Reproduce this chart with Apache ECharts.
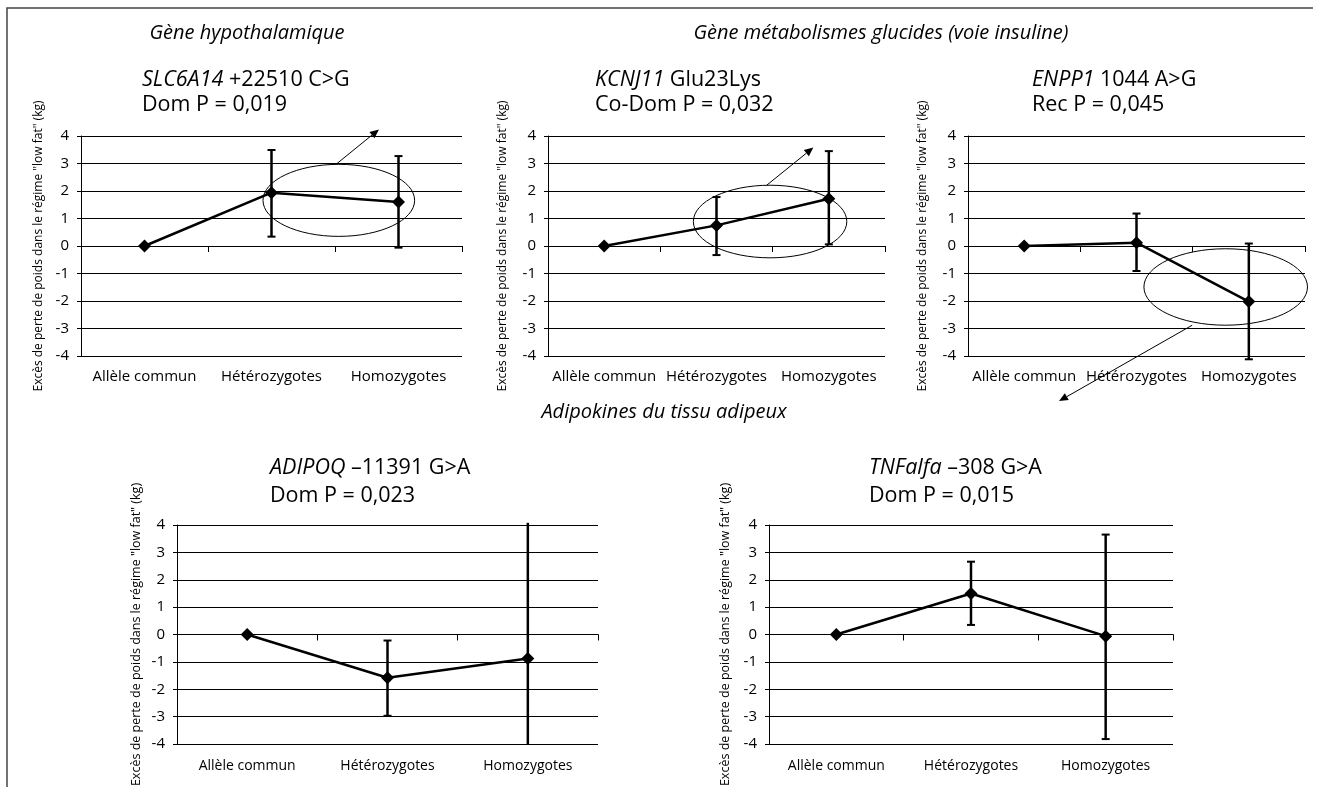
<!DOCTYPE html>
<html><head><meta charset="utf-8">
<script src="https://cdn.jsdelivr.net/npm/echarts@6/dist/echarts.min.js"></script>
<style>html,body{margin:0;padding:0;background:#fff}#c{width:1319px;height:787px}</style>
</head><body><div id="c"></div>
<script>
// ---- data ----
const categories = ['Allèle commun', 'Hétérozygotes', 'Homozygotes'];
const yTicks = [-4, -3, -2, -1, 0, 1, 2, 3, 4];
const yAxisName = 'Excès de perte de poids dans le régime "low fat" (kg)';

const slcMean = [0, 1.94, 1.60];
const slcLow  = [null, 0.34, -0.06];
const slcHigh = [null, 3.49, 3.27];

const kcnMean = [0, 0.75, 1.72];
const kcnLow  = [null, -0.33, 0.06];
const kcnHigh = [null, 1.78, 3.45];

const enpMean = [0, 0.12, -2.02];
const enpLow  = [null, -0.91, -4.12];
const enpHigh = [null, 1.18, 0.09];

const adiMean = [0, -1.58, -0.88];
const adiLow  = [null, -2.97, -5.9];
const adiHigh = [null, -0.22, 4.2];

const tnfMean = [0, 1.50, -0.06];
const tnfLow  = [null, 0.35, -3.82];
const tnfHigh = [null, 2.66, 3.65];

// annotations (category-index / value units): ellipse [cx, cy, rx, ry], arrow [x1, y1, x2, y2]
const slcEllipse = [1.53, 1.66, 0.597, 1.31];
const slcArrow   = [1.516, 3.0, 1.846, 4.24];
const kcnEllipse = [1.477, 0.89, 0.683, 1.32];
const kcnArrow   = [1.447, 2.21, 1.862, 3.58];
const enpEllipse = [1.794, -1.49, 0.728, 1.39];
const enpArrow   = [1.496, -2.88, 0.31, -5.64];

const headers = ['Gène hypothalamique', 'Gène métabolismes glucides (voie insuline)', 'Adipokines du tissu adipeux'];
const panels = [
  {gene: 'SLC6A14', variant: ' +22510 C>G', test: 'Dom P = 0,019', mean: slcMean, low: slcLow, high: slcHigh, ell: slcEllipse, arr: slcArrow},
  {gene: 'KCNJ11', variant: ' Glu23Lys', test: 'Co-Dom P = 0,032', mean: kcnMean, low: kcnLow, high: kcnHigh, ell: kcnEllipse, arr: kcnArrow},
  {gene: 'ENPP1', variant: ' 1044 A>G', test: 'Rec P = 0,045', mean: enpMean, low: enpLow, high: enpHigh, ell: enpEllipse, arr: enpArrow},
  {gene: 'ADIPOQ', variant: ' \u201311391 G>A', test: 'Dom P = 0,023', mean: adiMean, low: adiLow, high: adiHigh},
  {gene: 'TNFalfa', variant: ' \u2013308 G>A', test: 'Dom P = 0,015', mean: tnfMean, low: tnfLow, high: tnfHigh}
];

// ---- layout ----
const FONT = '"Open Sans", "Noto Sans", sans-serif';
const layout = [
  {grid: {left: 81, top: 136, width: 381, height: 220}, title: [142, 67], lh: 25, nameGap: 36, nameSize: 12, catSize: 15, catMargin: 13},
  {grid: {left: 548, top: 136, width: 337, height: 220}, title: [595, 67], lh: 25, nameGap: 39, nameSize: 12, catSize: 15, catMargin: 13},
  {grid: {left: 968, top: 136, width: 337, height: 220}, title: [1032, 67], lh: 25, nameGap: 39, nameSize: 12, catSize: 15, catMargin: 13},
  {grid: {left: 177, top: 525, width: 421, height: 219}, title: [270, 454], lh: 28, nameGap: 34, nameSize: 12.5, catSize: 14, catMargin: 15},
  {grid: {left: 769, top: 525, width: 404, height: 219}, title: [869, 454], lh: 28, nameGap: 37, nameSize: 12.5, catSize: 14, catMargin: 15}
];

const grids = [], xAxes = [], yAxes = [], series = [], titles = [];
panels.forEach((p, i) => {
  const L = layout[i];
  grids.push(Object.assign({containLabel: false, outerBoundsMode: 'none'}, L.grid));
  xAxes.push({
    type: 'category', gridIndex: i, data: categories, boundaryGap: true,
    axisLine: {show: true, lineStyle: {color: '#000', width: 1}},
    axisTick: {show: true, length: 6, lineStyle: {color: '#000'}},
    axisLabel: {color: '#000', fontSize: L.catSize, fontFamily: FONT, margin: L.catMargin, interval: 0},
    splitLine: {show: false}
  });
  yAxes.push({
    type: 'value', gridIndex: i, min: yTicks[0], max: yTicks[yTicks.length - 1], interval: 1,
    name: yAxisName, nameLocation: 'middle', nameGap: L.nameGap, nameRotate: 90,
    nameTextStyle: {color: '#000', fontSize: L.nameSize, fontFamily: FONT},
    axisLine: {show: true, lineStyle: {color: '#000', width: 1}},
    axisTick: {show: true, length: 4, lineStyle: {color: '#000'}},
    axisLabel: {color: '#000', fontSize: 15, fontFamily: FONT, margin: 12},
    splitLine: {show: true, lineStyle: {color: '#000', width: 1}}
  });
  titles.push({
    left: L.title[0], top: L.title[1], padding: 0,
    text: '{i|' + p.gene + '}{n|' + p.variant + '}\n{n|' + p.test + '}',
    textStyle: {fontSize: 21.5, lineHeight: L.lh, fontFamily: FONT, color: '#000', fontWeight: 'normal',
      rich: {i: {fontStyle: 'italic', fontSize: 21.5, lineHeight: L.lh, fontFamily: FONT, color: '#000'},
             n: {fontSize: 21.5, lineHeight: L.lh, fontFamily: FONT, color: '#000'}}}
  });
  // error bars
  const errData = [];
  p.mean.forEach((m, k) => { if (p.low[k] != null) errData.push([k, p.low[k], p.high[k]]); });
  series.push({
    type: 'custom', xAxisIndex: i, yAxisIndex: i, z: 3, silent: true, clip: false,
    data: errData,
    renderItem: function (params, api) {
      const x = api.value(0), lo = api.value(1), hi = api.value(2);
      const lim = 4.15;
      const loC = Math.abs(lo) > lim ? Math.sign(lo) * 4 : lo;
      const hiC = Math.abs(hi) > lim ? Math.sign(hi) * 4.08 : hi;
      const a = api.coord([x, loC]), b = api.coord([x, hiC]);
      const ch = [];
      ch.push({type: 'line', shape: {x1: a[0], y1: a[1], x2: b[0], y2: b[1]}, style: {stroke: '#000', lineWidth: 2.5}});
      if (Math.abs(lo) <= lim) ch.push({type: 'line', shape: {x1: a[0] - 4, y1: a[1], x2: a[0] + 4, y2: a[1]}, style: {stroke: '#000', lineWidth: 2}});
      if (Math.abs(hi) <= lim) ch.push({type: 'line', shape: {x1: b[0] - 4, y1: b[1], x2: b[0] + 4, y2: b[1]}, style: {stroke: '#000', lineWidth: 2}});
      return {type: 'group', children: ch};
    }
  });
  // mean line
  series.push({
    type: 'line', xAxisIndex: i, yAxisIndex: i, z: 4, data: p.mean,
    symbol: 'diamond', symbolSize: 13, showSymbol: true,
    lineStyle: {color: '#000', width: 2.5}, itemStyle: {color: '#000'}, silent: true
  });
  // annotations
  if (p.ell) {
    series.push({
      type: 'custom', xAxisIndex: i, yAxisIndex: i, z: 5, silent: true, clip: false,
      data: [[p.ell[0], p.ell[1], p.ell[2], p.ell[3], p.arr[0], p.arr[1], p.arr[2], p.arr[3]]],
      renderItem: function (params, api) {
        const toPx = (xf, y) => {
          const c0 = api.coord([0, y]), c1 = api.coord([1, y]);
          return [c0[0] + xf * (c1[0] - c0[0]), c0[1]];
        };
        const v = [0,1,2,3,4,5,6,7].map(k => api.value(k));
        const c = toPx(v[0], v[1]);
        const e1 = toPx(v[0] + v[2], v[1] + v[3]);
        const rx = Math.abs(e1[0] - c[0]), ry = Math.abs(e1[1] - c[1]);
        const p1 = toPx(v[4], v[5]), p2 = toPx(v[6], v[7]);
        const ang = Math.atan2(p2[1] - p1[1], p2[0] - p1[0]);
        const hl = 9, hw = 4;
        const bx = p2[0] - hl * Math.cos(ang), by = p2[1] - hl * Math.sin(ang);
        const nx = -Math.sin(ang) * hw, ny = Math.cos(ang) * hw;
        return {type: 'group', children: [
          {type: 'ellipse', shape: {cx: c[0], cy: c[1], rx: rx, ry: ry}, style: {fill: 'none', stroke: '#000', lineWidth: 1}},
          {type: 'line', shape: {x1: p1[0], y1: p1[1], x2: bx, y2: by}, style: {stroke: '#000', lineWidth: 1}},
          {type: 'polygon', shape: {points: [[p2[0], p2[1]], [bx + nx, by + ny], [bx - nx, by - ny]]}, style: {fill: '#000'}}
        ]};
      }
    });
  }
});

const headerPos = [[247, 33], [881, 33], [664, 412]];
headers.forEach((h, k) => {
  titles.push({
    text: h, left: headerPos[k][0], top: headerPos[k][1] - 12, textAlign: 'center', padding: 0,
    textStyle: {fontSize: 20, lineHeight: 24, fontStyle: 'italic', fontWeight: 'normal', fontFamily: FONT, color: '#000'}
  });
});

const chart = echarts.init(document.getElementById('c'), null, {renderer: 'canvas'});
chart.setOption({
  animation: false,
  backgroundColor: '#fff',
  title: titles,
  grid: grids, xAxis: xAxes, yAxis: yAxes, series: series,
  graphic: [{type: 'polyline', silent: true, shape: {points: [[7, 787], [7, 8], [1313, 8]]}, style: {stroke: '#444', lineWidth: 1.5, fill: 'none'}}]
});
</script></body></html>
